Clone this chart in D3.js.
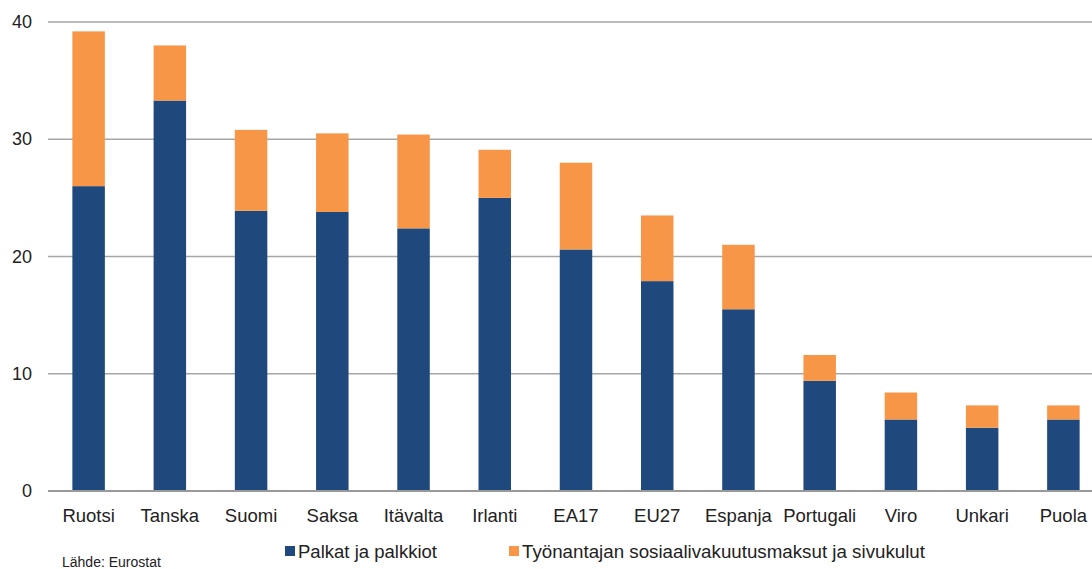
<!DOCTYPE html>
<html><head><meta charset="utf-8">
<script src="https://cdn.jsdelivr.net/npm/d3@7"></script>
<style>body{margin:0;background:#fff;overflow:hidden}svg{display:block;font-family:"Liberation Sans",Arial,sans-serif}</style>
</head><body>
<script>
const categories = ["Ruotsi","Tanska","Suomi","Saksa","Itävalta","Irlanti","EA17","EU27","Espanja","Portugali","Viro","Unkari","Puola"];
const wages = [26.0,33.3,23.9,23.8,22.4,25.0,20.6,17.9,15.5,9.4,6.1,5.4,6.1];
const employerCosts = [13.2,4.7,6.9,6.7,8.0,4.1,7.4,5.6,5.5,2.2,2.3,1.9,1.2];
const yTicks = [0,10,20,30,40];
const seriesNames = ["Palkat ja palkkiot","Työnantajan sosiaalivakuutusmaksut ja sivukulut"];
const colors = ["#1f497d","#f79646"];

const W=1092,H=569;
const svg=d3.select("body").append("svg").attr("width",W).attr("height",H);
const x=d3.scaleBand().domain(categories).range([48,1104]).paddingInner(0.6).paddingOuter(0.3);
const y=d3.scaleLinear().domain([0,40]).range([491,22]);

// gridlines
svg.append("g").selectAll("line").data(yTicks.filter(d=>d>0)).join("line")
  .attr("x1",48).attr("x2",W).attr("y1",d=>y(d)).attr("y2",d=>y(d))
  .attr("stroke","#a6a6a6").attr("stroke-width",1.5);

const rows=categories.map((c,i)=>({c,w:wages[i],e:employerCosts[i]}));
const g=svg.append("g");
g.selectAll("rect.w").data(rows).join("rect").attr("class","w")
  .attr("x",d=>x(d.c)).attr("width",x.bandwidth())
  .attr("y",d=>y(d.w)).attr("height",d=>y(0)-y(d.w)).attr("fill",colors[0]);
g.selectAll("rect.e").data(rows).join("rect").attr("class","e")
  .attr("x",d=>x(d.c)).attr("width",x.bandwidth())
  .attr("y",d=>y(d.w+d.e)).attr("height",d=>y(d.w)-y(d.w+d.e)).attr("fill",colors[1]);

// zero axis
svg.append("line").attr("x1",48).attr("x2",W).attr("y1",y(0)).attr("y2",y(0))
  .attr("stroke","#999").attr("stroke-width",2);

// y labels
svg.append("g").selectAll("text").data(yTicks).join("text")
  .attr("x",32).attr("y",d=>y(d)+6).attr("text-anchor","end")
  .attr("font-size",18).attr("fill","#222").text(d=>d);

// x labels
svg.append("g").selectAll("text").data(categories).join("text")
  .attr("x",d=>x(d)+x.bandwidth()/2).attr("y",522).attr("text-anchor","middle")
  .attr("font-size",18.5).attr("fill","#222").text(d=>d);

// legend
const leg=[{x:285,tx:298,len:139},{x:509,tx:522,len:403}];
seriesNames.forEach((n,i)=>{
  svg.append("rect").attr("x",leg[i].x).attr("y",546).attr("width",10).attr("height",10).attr("fill",colors[i]);
  svg.append("text").attr("x",leg[i].tx).attr("y",558).attr("font-size",17.5).attr("fill","#222")
    .attr("textLength",leg[i].len).attr("lengthAdjust","spacingAndGlyphs").text(n);
});
svg.append("text").attr("x",62).attr("y",567).attr("font-size",14).attr("fill","#222").text("Lähde: Eurostat");
</script>
</body></html>
